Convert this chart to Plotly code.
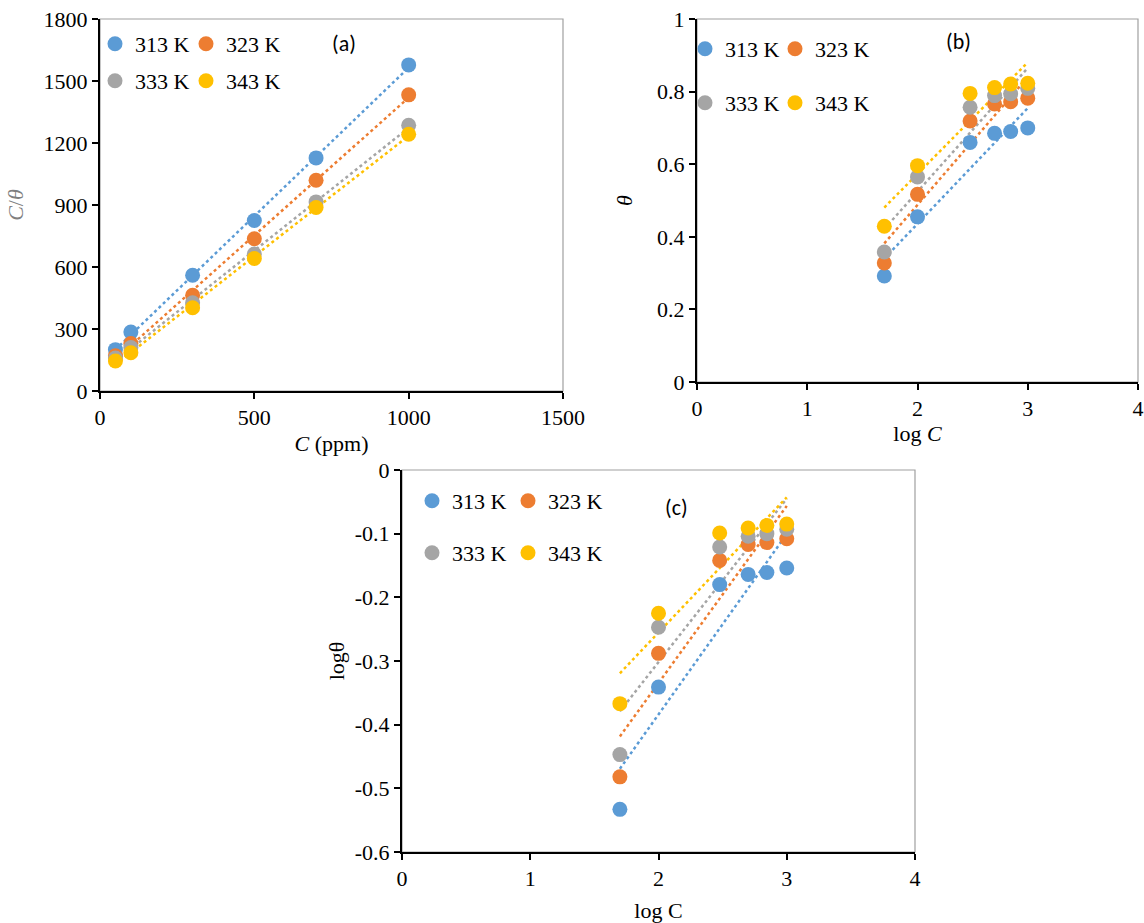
import numpy as np
import plotly.graph_objects as go

# ---------------- data ----------------
temps = ["313 K", "323 K", "333 K", "343 K"]
colors = ["#5B9BD5", "#ED7D31", "#A5A5A5", "#FFC000"]

C_ppm = [50, 100, 300, 500, 700, 1000]
logC = [1.699, 2.0, 2.477, 2.699, 2.845, 3.0]

# (a) Langmuir: C/theta
C_theta_313 = [200, 285, 560, 825, 1128, 1578]
C_theta_323 = [170, 230, 463, 737, 1020, 1433]
C_theta_333 = [160, 210, 427, 663, 915, 1286]
C_theta_343 = [145, 185, 403, 641, 888, 1242]

# (b) Temkin: theta
theta_313 = [0.292, 0.455, 0.660, 0.685, 0.690, 0.700]
theta_323 = [0.328, 0.517, 0.719, 0.766, 0.772, 0.782]
theta_333 = [0.358, 0.565, 0.757, 0.789, 0.794, 0.809]
theta_343 = [0.429, 0.596, 0.795, 0.811, 0.821, 0.823]

# (c) Freundlich: log theta
logtheta_313 = [-0.533, -0.341, -0.180, -0.164, -0.161, -0.154]
logtheta_323 = [-0.482, -0.288, -0.142, -0.117, -0.114, -0.108]
logtheta_333 = [-0.447, -0.247, -0.121, -0.104, -0.100, -0.093]
logtheta_343 = [-0.367, -0.225, -0.099, -0.091, -0.087, -0.085]

series_a = [C_theta_313, C_theta_323, C_theta_333, C_theta_343]
series_b = [theta_313, theta_323, theta_333, theta_343]
series_c = [logtheta_313, logtheta_323, logtheta_333, logtheta_343]

# ---------------- figure ----------------
W, H = 1144, 923
fig = go.Figure()

SERIF = "Liberation Serif, Times New Roman, serif"
SANS = "Carlito, Open Sans, Liberation Sans, sans-serif"


def px_x(p):
    return p / W


def px_y(p):
    return 1 - p / H


panels = [
    ("x", "y", C_ppm, series_a, ["legend", "legend2", "legend3", "legend4"]),
    ("x2", "y2", logC, series_b, ["legend5", "legend6", "legend7", "legend8"]),
    ("x3", "y3", logC, series_c, ["legend9", "legend10", "legend11", "legend12"]),
]

for xa, ya, xs, series, legs in panels:
    xarr = np.array(xs, dtype=float)
    for i, (name, col, ys) in enumerate(zip(temps, colors, series)):
        yarr = np.array(ys, dtype=float)
        # linear trendline (least squares) over the data range
        k, b = np.polyfit(xarr, yarr, 1)
        xt = np.array([xarr.min(), xarr.max()])
        fig.add_trace(go.Scatter(
            x=xt, y=k * xt + b, mode="lines", xaxis=xa, yaxis=ya,
            line=dict(color=col, width=2.5, dash="dot"),
            showlegend=False, hoverinfo="skip"))
    for i, (name, col, ys) in enumerate(zip(temps, colors, series)):
        fig.add_trace(go.Scatter(
            x=xs, y=ys, mode="markers", name=name, xaxis=xa, yaxis=ya,
            marker=dict(color=col, size=15, line=dict(width=0)),
            legend=legs[i]))

tickfont = dict(family=SERIF, size=22, color="black")


def axis_common(**kw):
    d = dict(showline=True, linecolor="black", linewidth=2,
             ticks="outside", ticklen=6, tickwidth=1.5, tickcolor="black",
             showgrid=False, zeroline=False, tickfont=tickfont,
             automargin=False, ticklabeloverflow="allow")
    d.update(kw)
    return d


# domains in (screen) pixels
A = dict(l=100, r=563, t=19, b=391)
B = dict(l=697, r=1138, t=19, b=382)
Cc = dict(l=402, r=915, t=470, b=852)

titlefont = dict(family=SERIF, size=22, color="black")

fig.update_layout(
    width=W, height=H,
    margin=dict(l=0, r=0, t=0, b=0, autoexpand=False),
    paper_bgcolor="white", plot_bgcolor="white",
    font=dict(family=SERIF, size=20, color="black"),
    xaxis=axis_common(domain=[px_x(A["l"]), px_x(A["r"])], anchor="y",
                      range=[0, 1500], tickvals=[0, 500, 1000, 1500],
                      title=dict(text="<i>C</i> (ppm)", standoff=6, font=titlefont)),
    yaxis=axis_common(domain=[px_y(A["b"]), px_y(A["t"])], anchor="x",
                      range=[0, 1800], tickvals=[0, 300, 600, 900, 1200, 1500, 1800],
                      title=dict(text="<i>C</i>/<i>θ</i>", standoff=14,
                                 font=dict(family=SERIF, size=22, color="#7F7F7F"))),
    xaxis2=axis_common(domain=[px_x(B["l"]), px_x(B["r"])], anchor="y2",
                       range=[0, 4], tickvals=[0, 1, 2, 3, 4],
                       title=dict(text="log <i>C</i>", standoff=0, font=titlefont)),
    yaxis2=axis_common(domain=[px_y(B["b"]), px_y(B["t"])], anchor="x2",
                       range=[0, 1], tickvals=[0, 0.2, 0.4, 0.6, 0.8, 1],
                       ticktext=["0", "0.2", "0.4", "0.6", "0.8", "1"],
                       title=dict(text="<i>θ</i>", standoff=18, font=titlefont)),
    xaxis3=axis_common(domain=[px_x(Cc["l"]), px_x(Cc["r"])], anchor="y3",
                       range=[0, 4], tickvals=[0, 1, 2, 3, 4],
                       title=dict(text="log C", standoff=15, font=titlefont)),
    yaxis3=axis_common(domain=[px_y(Cc["b"]), px_y(Cc["t"])], anchor="x3",
                       range=[-0.6, 0], tickvals=[-0.6, -0.5, -0.4, -0.3, -0.2, -0.1, 0],
                       ticktext=["-0.6", "-0.5", "-0.4", "-0.3", "-0.2", "-0.1", "0"],
                       title=dict(text="logθ", standoff=4, font=titlefont)),
)

# plot-area frames (gray)
for xa in ["x", "x2", "x3"]:
    ya = xa.replace("x", "y")
    fig.add_shape(type="rect", xref=f"{xa} domain", yref=f"{ya} domain",
                  x0=0, x1=1, y0=0, y1=1, layer="below",
                  line=dict(color="#A0A0A0", width=1.2))

# legends: one entry each, 2x2 grid per panel (marker centre positions)
legfont = dict(family=SERIF, size=22, color="black")
marker_pos = {
    "legend": (114, 44), "legend2": (205, 44), "legend3": (114, 81), "legend4": (205, 81),
    "legend5": (704, 49), "legend6": (794, 49), "legend7": (704, 103), "legend8": (794, 103),
    "legend9": (431, 501), "legend10": (527, 501), "legend11": (431, 553), "legend12": (527, 553),
}
for key, (mx, my) in marker_pos.items():
    fig.update_layout({key: dict(
        x=px_x(mx - 19), y=px_y(my), xanchor="left", yanchor="middle",
        orientation="h", font=legfont, bgcolor="rgba(0,0,0,0)",
        itemwidth=30, tracegroupgap=0)})

# panel labels
for txt, x, y in [("(a)", 344, 44), ("(b)", 958, 42), ("(c)", 676, 507)]:
    fig.add_annotation(text=txt, x=px_x(x), y=px_y(y), xref="paper", yref="paper",
                       showarrow=False, xanchor="center", yanchor="middle",
                       font=dict(family=SANS, size=22, color="black"))

fig.write_html(
    "out.html",
    config={"displayModeBar": False},
    post_script="document.body.style.margin='0';document.body.style.overflow='hidden';",
)
